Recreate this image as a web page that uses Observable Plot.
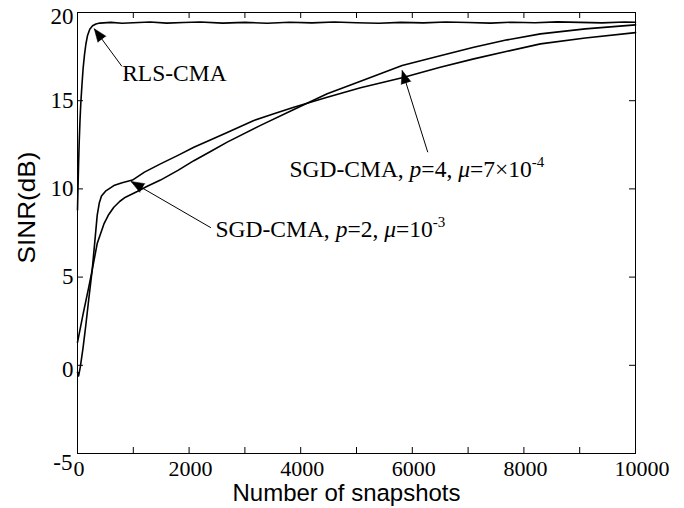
<!DOCTYPE html>
<html><head><meta charset="utf-8">
<script src="https://cdn.jsdelivr.net/npm/d3@7"></script>
<script src="https://cdn.jsdelivr.net/npm/@observablehq/plot@0.6"></script>
<style>body{margin:0;background:#fff}</style>
</head><body><div id="chart"></div>
<script>
// ---- data ----
const xTicks = [0,1000,2000,3000,4000,5000,6000,7000,8000,9000,10000];
const xTickLabels = [0,2000,4000,6000,8000,10000];
const yTicks = [-5,0,5,10,15,20];

const rlsX = [0,10,20,30,45,60,80,100,125,150,180,220,270,330,400,600,800,1000,1300,1600,1900,2200,2600,3000,3400,3800,4200,4600,5000,5400,5800,6200,6600,7000,7400,7800,8200,8600,9000,9400,9800,10000];
const rlsY = [8.8,10.2,11.5,12.6,13.9,14.9,15.9,16.8,17.6,18.2,18.7,19.05,19.25,19.35,19.4,19.44,19.39,19.42,19.46,19.4,19.43,19.46,19.4,19.44,19.39,19.45,19.41,19.46,19.42,19.39,19.44,19.41,19.46,19.43,19.4,19.45,19.42,19.47,19.44,19.41,19.46,19.45];

const sgd2X = [0,20,50,100,150,200,263,310,353,390,430,502,651,800,985,1200,1487,1800,2085,2400,2683,3160,3519,3877,4475,5072,5818,6500,7102,7700,8297,9100,10000];
const sgd2Y = [-0.4,-0.6,-0.1,1.0,2.3,3.7,5.4,7.0,8.5,9.2,9.6,9.87,10.19,10.35,10.5,10.95,11.42,11.9,12.36,12.8,13.2,13.88,14.26,14.63,15.2,15.73,16.3,16.9,17.37,17.8,18.22,18.55,18.86];

const sgd4X = [0,100,200,263,353,472,560,651,760,860,1070,1250,1487,1800,2085,2400,2683,3280,3877,4475,5072,5818,6500,7102,7700,8297,9100,10000];
const sgd4Y = [1.3,2.9,4.4,5.4,6.9,8.0,8.55,8.96,9.3,9.53,9.85,10.15,10.5,11.05,11.6,12.15,12.65,13.6,14.5,15.39,16.1,17.0,17.55,18.03,18.45,18.79,19.07,19.3];

const annText  = ["RLS-CMA", "SGD-CMA, p=2, μ=10^-3", "SGD-CMA, p=4, μ=7×10^-4"];
const annTextX = [800, 2473, 3799];
const annTextY = [16.54, 7.70, 11.09];
const annTailX = [795, 2390, 6277];
const annTailY = [16.95, 7.8, 12.08];
const annTipX  = [300, 960, 5818];
const annTipY  = [19.08, 10.42, 16.71];

const xTitle = "Number of snapshots";
const yTitle = "SINR(dB)";

// ---- layout ----
const W = 684, H = 508, ML = 77, MR = 49, MT = 12, MB = 55;
const kx = (W - ML - MR) / 10000, ky = (H - MT - MB) / 25;
const serif = "'Liberation Serif','Times New Roman',serif";
const sans = "'Liberation Sans',Arial,sans-serif";

const rows = (xs, ys) => xs.map((x, i) => ({x, y: ys[i]}));
const rls = rows(rlsX, rlsY), sgd2 = rows(sgd2X, sgd2Y), sgd4 = rows(sgd4X, sgd4Y);
const ann = annText.map((t, i) => ({t, tx: annTextX[i], ty: annTextY[i],
  x1: annTailX[i], y1: annTailY[i], x2: annTipX[i], y2: annTipY[i]}));
const angle = d => {
  const dx = (d.x2 - d.x1) * kx, dy = -(d.y2 - d.y1) * ky;
  return Math.atan2(dx, -dy) * 180 / Math.PI;
};

const chart = Plot.plot({
  width: W, height: H, marginLeft: ML, marginRight: MR, marginTop: MT, marginBottom: MB,
  x: {domain: [0, 10000], axis: null},
  y: {domain: [-5, 20], axis: null},
  style: {background: "white", fontFamily: serif, color: "black"},
  marks: [
    Plot.ruleX(xTicks, {x: d => d, y1: () => -5, y2: () => -5 + 6 / ky, stroke: "black"}),
    Plot.ruleX(xTicks, {x: d => d, y1: () => 20, y2: () => 20 - 6 / ky, stroke: "black"}),
    Plot.ruleY(yTicks, {y: d => d, x1: () => 0, x2: () => 6 / kx, stroke: "black"}),
    Plot.ruleY(yTicks, {y: d => d, x1: () => 10000, x2: () => 10000 - 6 / kx, stroke: "black"}),
    Plot.line(rls, {x: "x", y: "y", stroke: "black", strokeWidth: 1.6}),
    Plot.line(sgd2, {x: "x", y: "y", stroke: "black", strokeWidth: 1.6}),
    Plot.line(sgd4, {x: "x", y: "y", stroke: "black", strokeWidth: 1.6}),
    Plot.link(ann, {x1: "x1", y1: "y1", x2: "x2", y2: "y2", stroke: "black", strokeWidth: 1}),
    Plot.vector(ann, {x: "x2", y: "y2", shape: "spike", anchor: "end", length: 13, r: 5,
      rotate: angle, fill: "black", stroke: "black", strokeWidth: 0.5}),
    Plot.text(ann, {x: "tx", y: "ty", text: "t", textAnchor: "start", lineAnchor: "middle",
      fontSize: 23.5, fill: "black"}),
    Plot.frame({stroke: "black"}),
    Plot.text(xTickLabels.filter(d => d < 10000), {x: d => d, y: () => -5, text: d => String(d),
      dy: 15, dx: 1.5, fontSize: 22, lineAnchor: "middle", fill: "black"}),
    Plot.text(xTickLabels.filter(d => d === 10000), {x: d => d, y: () => -5, text: d => String(d),
      dy: 15, dx: 6.5, fontSize: 22, lineAnchor: "middle", fill: "black"}),
    Plot.text(yTicks.filter(d => d >= 5 && d <= 15), {x: () => 0, y: d => d, text: d => String(d),
      textAnchor: "end", dx: -4, dy: 0, fontSize: 23, lineAnchor: "middle", fill: "black"}),
    Plot.text(yTicks.filter(d => d === 20 || d === 0), {x: () => 0, y: d => d, text: d => String(d),
      textAnchor: "end", dx: -4, dy: 4, fontSize: 23, lineAnchor: "middle", fill: "black"}),
    Plot.text(yTicks.filter(d => d === -5), {x: () => 0, y: d => d, text: d => String(d),
      textAnchor: "end", dx: -5, dy: 9, fontSize: 23, lineAnchor: "middle", fill: "black"}),
    Plot.text([xTitle], {x: () => 4821, y: () => -5, text: d => d, dy: 40, fontSize: 24.5,
      fontFamily: sans, textAnchor: "middle", lineAnchor: "middle", fill: "black"}),
    Plot.text([yTitle], {x: () => 0, y: () => 20 - (207 - MT) / ky, text: d => d, dx: -50.5, rotate: -90,
      fontSize: 24, fontFamily: sans, textAnchor: "middle", lineAnchor: "middle", fill: "black"})
  ]
});

// rich text (italic symbols, superscripts) and condensed titles
d3.select(chart).selectAll("text").each(function () {
  const s = this.textContent;
  if (s === xTitle) { this.setAttribute("textLength", 228); this.setAttribute("lengthAdjust", "spacingAndGlyphs"); return; }
  if (s === yTitle) { this.setAttribute("textLength", 112); this.setAttribute("lengthAdjust", "spacingAndGlyphs"); return; }
  if (!s.includes("^")) return;
  const [main, sup] = s.split("^");
  const el = d3.select(this);
  el.text(null);
  main.split(/(p|μ)(?==)/).forEach(part => {
    if (!part) return;
    const ts = el.append("tspan").text(part);
    if (part === "p" || part === "μ") ts.attr("font-style", "italic");
  });
  el.append("tspan").attr("font-size", 15).attr("dy", -10).text(sup);
});

document.getElementById("chart").append(chart);
</script>
</body></html>
